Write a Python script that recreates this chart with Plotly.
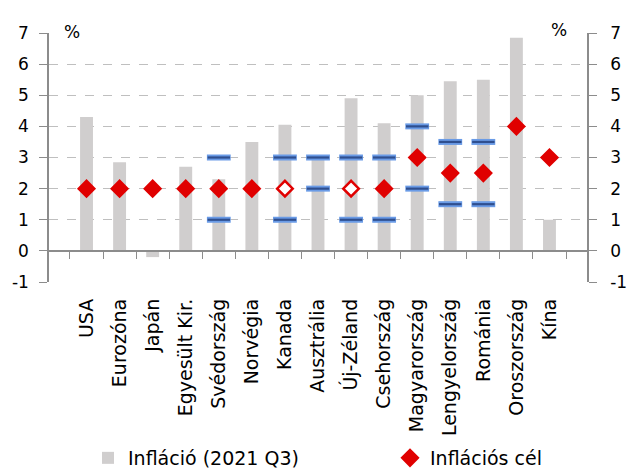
import plotly.graph_objects as go

categories = ["USA", "Eurozóna", "Japán", "Egyesült Kir.", "Svédország", "Norvégia",
              "Kanada", "Ausztrália", "Új-Zéland", "Csehország", "Magyarország",
              "Lengyelország", "Románia", "Oroszország", "Kína"]
inflation = [4.3, 2.85, -0.2, 2.7, 2.3, 3.5, 4.05, 3.0, 4.9, 4.1, 5.0, 5.45, 5.5, 6.85, 1.0]
target = [2, 2, 2, 2, 2, 2, 2, None, 2, 2, 3, 2.5, 2.5, 4, 3]
target_hollow = [False, False, False, False, False, False, True, False, True, False,
                 False, False, False, False, False]
band_low = [None, None, None, None, 1, None, 1, 2, 1, 1, 2, 1.5, 1.5, None, None]
band_high = [None, None, None, None, 3, None, 3, 3, 3, 3, 4, 3.5, 3.5, None, None]
y_ticks = [-1, 0, 1, 2, 3, 4, 5, 6, 7]
y_ticktext = ["-1", "0", "1", "2", "3", "4", "5", "6", "7"]

FONT = "DejaVu Sans"
RED = "#E00000"
AXIS = "#8C8C8C"

# plot area geometry (pixels)
L, R, T, B = 49, 587, 33, 282
PW, PH = R - L, B - T

fig = go.Figure()

fig.add_trace(go.Bar(x=categories, y=inflation, name="Infláció (2021 Q3)",
                     marker=dict(color="#D0CECE", line=dict(width=0)), legend="legend"))

band_x = categories + categories
band_y = band_low + band_high
fig.add_trace(go.Scatter(x=band_x, y=band_y, mode="markers", showlegend=False,
                         marker=dict(symbol="line-ew", size=17,
                                     line=dict(width=6, color="#6A9BE6"))))
fig.add_trace(go.Scatter(x=band_x, y=band_y, mode="markers", showlegend=False,
                         marker=dict(symbol="line-ew", size=16,
                                     line=dict(width=2.2, color="#2F4F8F"))))

fill = ["white" if h else RED for h in target_hollow]
fig.add_trace(go.Scatter(x=categories, y=target, mode="markers", name="Inflációs cél",
                         legend="legend2",
                         marker=dict(symbol="diamond", size=12, color=fill,
                                     line=dict(width=2.5, color=RED))))

# helper traces for the zero axis ticks and the right axis
fig.add_trace(go.Scatter(x=categories, y=[None] * len(categories), xaxis="x2",
                         showlegend=False, hoverinfo="skip"))
fig.add_trace(go.Scatter(x=categories, y=[None] * len(categories), yaxis="y2",
                         showlegend=False, hoverinfo="skip"))

grid = dict(showgrid=True, gridcolor="#BFBFBF", griddash="dash", gridwidth=1)
legend_common = dict(orientation="h", xanchor="left", yanchor="middle",
                     font=dict(size=19), itemwidth=30, bgcolor="rgba(0,0,0,0)")
fig.update_layout(
    width=628, height=470,
    margin=dict(l=L, r=628 - R, t=T, b=470 - B, autoexpand=False),
    plot_bgcolor="white", paper_bgcolor="white",
    font=dict(family=FONT, size=19, color="#000000"),
    bargap=0.61,
    xaxis=dict(type="category", categoryarray=categories, tickangle=-90,
               ticks="", showline=False, showgrid=False,
               tickfont=dict(size=19), ticklabelstandoff=12),
    xaxis2=dict(overlaying="x", matches="x", anchor="free", position=0.125,
                showticklabels=False, ticks="outside", tickson="boundaries",
                ticklen=7, tickcolor=AXIS, showline=True,
                linecolor=AXIS, linewidth=1.5, showgrid=False),
    yaxis=dict(range=[-1, 7], tickvals=y_ticks, ticktext=y_ticktext, ticks="outside",
               ticklen=8, tickcolor=AXIS, showline=True, linecolor=AXIS, linewidth=1.5,
               zeroline=False, tickfont=dict(size=17), ticklabelstandoff=7, **grid),
    yaxis2=dict(overlaying="y", matches="y", side="right", tickvals=y_ticks,
                ticktext=y_ticktext, ticks="outside", ticklen=8, tickcolor=AXIS,
                showline=True, linecolor=AXIS, linewidth=1.5, showgrid=False,
                zeroline=False, tickfont=dict(size=17), ticklabelstandoff=10),
    legend=dict(x=(88 - L) / PW, y=(B - 458) / PH, **legend_common),
    legend2=dict(x=(390 - L) / PW, y=(B - 458) / PH, **legend_common),
    annotations=[
        dict(text="%", xref="paper", yref="paper", x=(62 - L) / PW, y=(B - 20) / PH,
             showarrow=False, font=dict(size=17)),
        dict(text="%", xref="paper", yref="paper", x=(569 - L) / PW, y=(B - 18) / PH,
             showarrow=False, font=dict(size=17)),
    ],
)

fig.write_html("out.html", config={"displayModeBar": False},
               post_script="document.body.style.margin='0px';")
